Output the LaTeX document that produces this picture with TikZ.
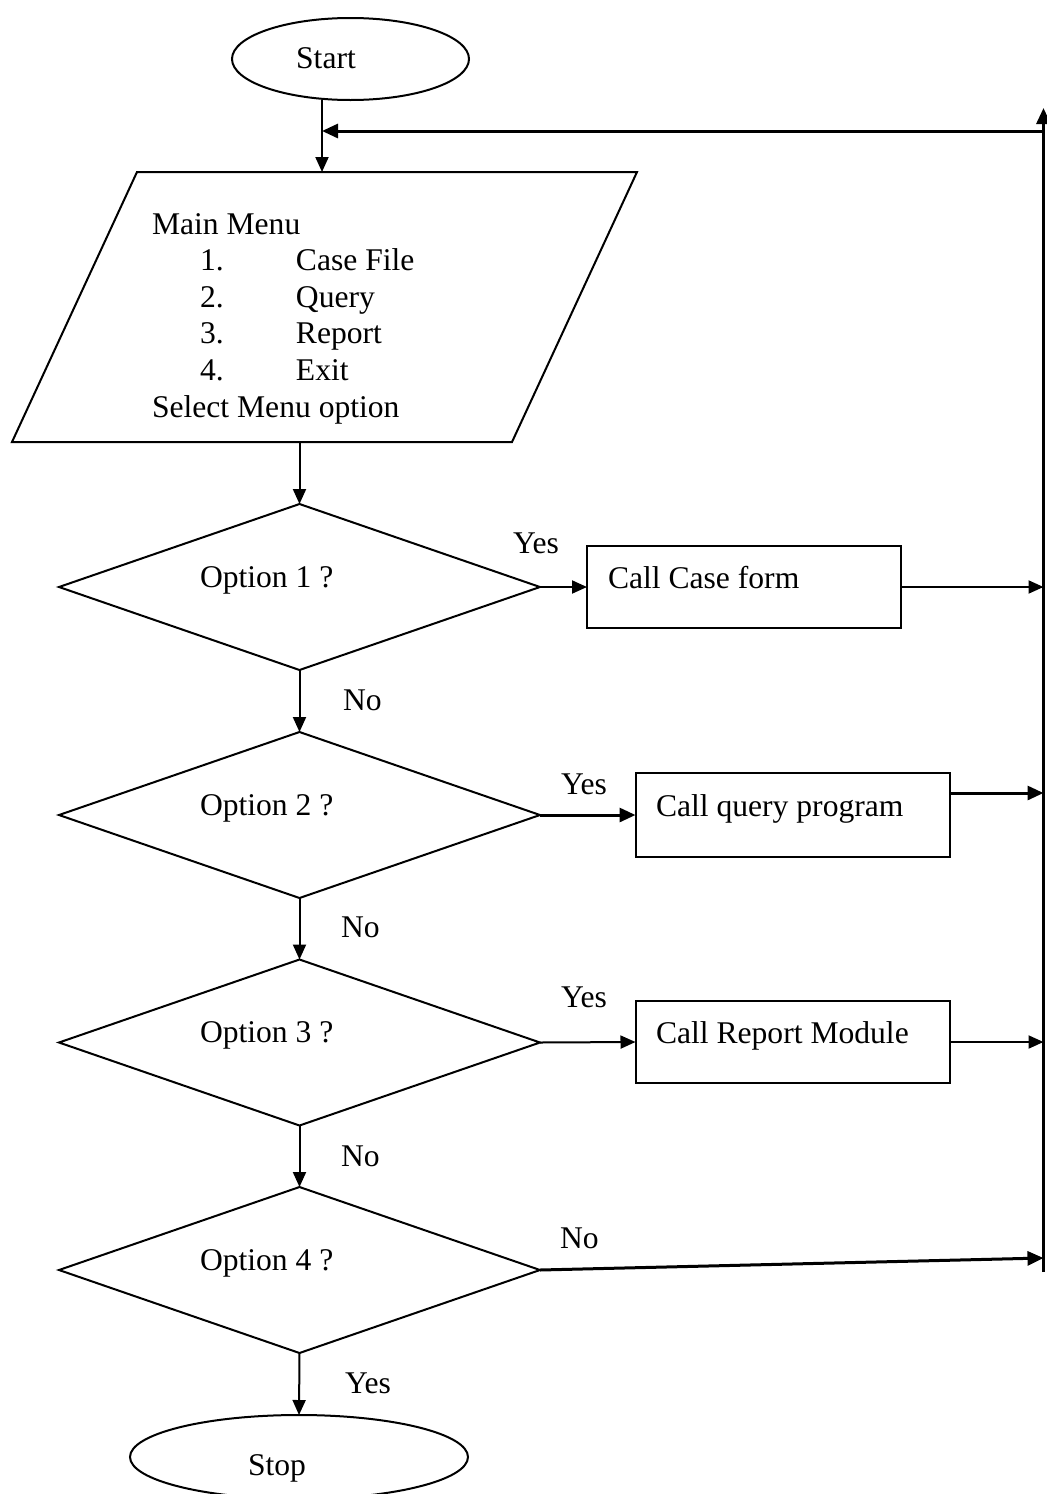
\documentclass[tikz,border=0pt]{standalone}
\usepackage{fontspec}
\setmainfont{Liberation Serif}
\usetikzlibrary{shapes.geometric,arrows.meta}
\begin{document}
\begin{tikzpicture}[x=0.5pt,y=-0.5pt,
  every node/.style={inner sep=0pt, outer sep=0pt},
  txt/.style={font=\fontsize{15.8}{18.25}\selectfont, anchor=base west},
  txtc/.style={font=\fontsize{15.8}{18.25}\selectfont, anchor=base},
  term/.style={draw, line width=1pt, ellipse},
  dec/.style={draw, line width=1pt, diamond, minimum width=240.5pt, minimum height=83pt},
  proc/.style={draw, line width=1pt, rectangle, minimum width=157pt},
  arr/.style={line width=1pt, -{Triangle[length=7.5pt,width=6.5pt]}},
  tarr/.style={line width=1.5pt, -{Triangle[length=8pt,width=7pt]}},
]
\useasboundingbox (0,0) rectangle (1047,1494);

% terminals
\node[term, minimum width=118.5pt, minimum height=41pt] (start) at (350.5,59) {};
\node[txtc] (starttxt) at (326,68) {Start};
\node[term, minimum width=169pt, minimum height=42pt] (stop) at (299,1457) {};
\node[txtc] (stoptxt) at (277,1475) {Stop};

% menu (parallelogram)
\draw[line width=1pt] (137,172) -- (637,172) -- (512,442) -- (12,442) -- cycle;
\node[txt] (m0) at (152,234) {Main Menu};
\node[txt] (m1) at (200,270.6) {\makebox[48pt][l]{1.}Case File};
\node[txt] (m2) at (200,307.2) {\makebox[48pt][l]{2.}Query};
\node[txt] (m3) at (200,343.8) {\makebox[48pt][l]{3.}Report};
\node[txt] (m4) at (200,380.4) {\makebox[48pt][l]{4.}Exit};
\node[txt] (m5) at (152,417) {Select Menu option};

% decisions
\node[dec] (d1) at (299.5,587) {};
\node[dec] (d2) at (299.5,815) {};
\node[dec] (d3) at (299.5,1042.5) {};
\node[dec] (d4) at (299.5,1270) {};
\node[txt] (t1) at (200,587) {Option 1 ?};
\node[txt] (t2) at (200,815) {Option 2 ?};
\node[txt] (t3) at (200,1042) {Option 3 ?};
\node[txt] (t4) at (200,1270) {Option 4 ?};

% processes
\node[proc, minimum height=41pt] (b1) at (744,587) {};
\node[proc, minimum height=42pt] (b2) at (792.5,815) {};
\node[proc, minimum height=41pt] (b3) at (792.5,1042) {};
\node[txt] (bt1) at (608,588) {Call Case form};
\node[txt] (bt2) at (656,816) {Call query program};
\node[txt] (bt3) at (656,1043) {Call Report Module};

% coordinates
\coordinate (mt) at (322,172);
\coordinate (ret) at (322,131);
\coordinate (mb) at (299.5,442);
\coordinate (rtop) at (1043.5,108);
\coordinate (rbot) at (1043.5,1272);
\coordinate (r4) at (1043.5,1258);

% connectors
\draw[arr] (start.south -| mt) -- (mt);
\draw[arr] (mb) -- (d1.north);
\draw[arr] (d1.south) -- (d2.north);
\draw[arr] (d2.south) -- (d3.north);
\draw[arr] (d3.south) -- (d4.north);
\draw[arr] (d4.south) -- (stop.north);
\draw[arr] (d1.east) -- (b1.west);
\draw[tarr] (d2.east) -- (b2.west);
\draw[arr] (d3.east) -- (b3.west);
\draw[arr] (b1.east) -- (b1.east -| rbot);
\draw[tarr] ([yshift=11pt]b2.east) -- ([yshift=11pt]b2.east -| rbot);
\draw[arr] (b3.east) -- (b3.east -| rbot);
\draw[tarr] (d4.east) -- (r4);
\draw[tarr] (rbot) -- (rtop);
\draw[tarr] (ret -| rbot) -- (ret);

% labels
\node[txt] (y1) at (513,553) {Yes};
\node[txt] (n1) at (343,710) {No};
\node[txt] (y2) at (561,794) {Yes};
\node[txt] (n2) at (341,937) {No};
\node[txt] (y3) at (561,1007) {Yes};
\node[txt] (n3) at (341,1166) {No};
\node[txt] (n4) at (560,1248) {No};
\node[txt] (y4) at (345,1393) {Yes};
\end{tikzpicture}
\end{document}
